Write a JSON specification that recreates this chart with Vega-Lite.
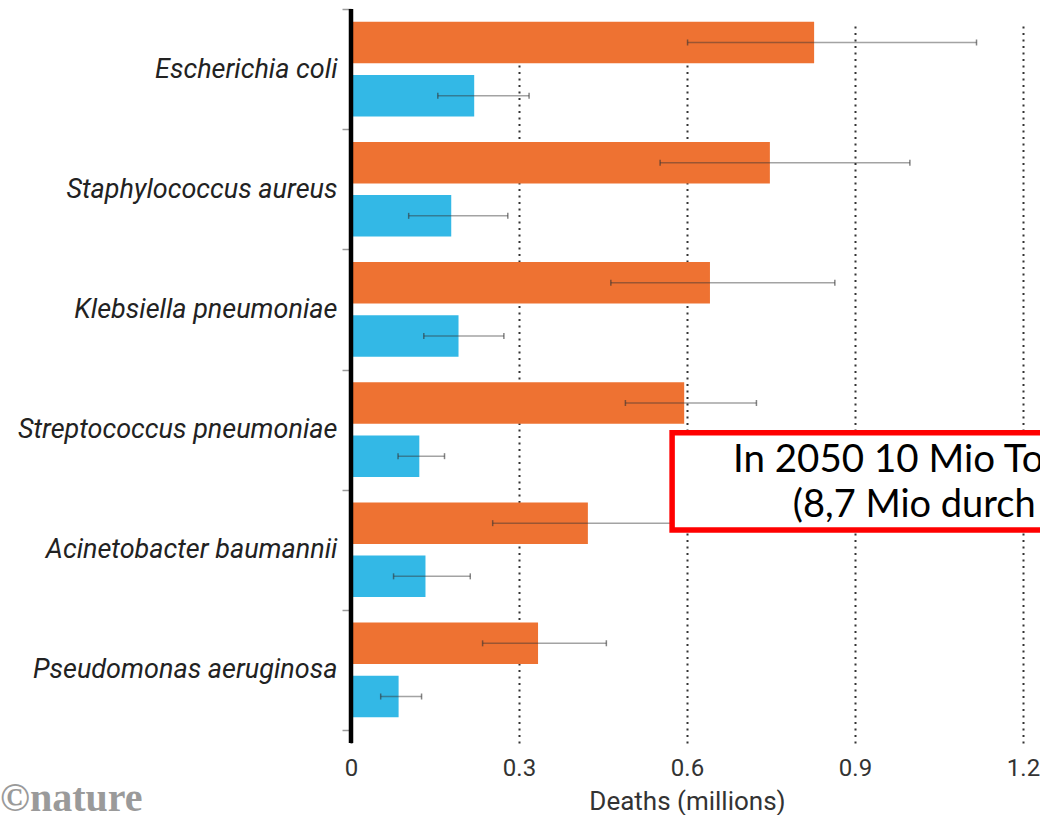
{
  "$schema": "https://vega.github.io/schema/vega-lite/v6.json",
  "autosize": {"type": "none"},
  "padding": {"left": 351, "top": 9, "right": 17, "bottom": 72},
  "width": 672,
  "height": 734,
  "background": "white",
  "config": {"view": {"stroke": null}},
  "title": {
    "text": "©nature",
    "orient": "bottom",
    "anchor": "start",
    "frame": "group",
    "dx": -351,
    "offset": -3,
    "baseline": "alphabetic",
    "font": "Liberation Serif",
    "fontWeight": "bold",
    "fontSize": 40,
    "color": "#9a9a9a"
  },
  "datasets": {
    "deaths": [
      {"pathogen": "Escherichia coli", "measure": "associated", "deaths": 0.827, "lo": 0.601, "hi": 1.117},
      {"pathogen": "Escherichia coli", "measure": "attributable", "deaths": 0.22, "lo": 0.155, "hi": 0.318},
      {"pathogen": "Staphylococcus aureus", "measure": "associated", "deaths": 0.748, "lo": 0.552, "hi": 0.998},
      {"pathogen": "Staphylococcus aureus", "measure": "attributable", "deaths": 0.179, "lo": 0.103, "hi": 0.28},
      {"pathogen": "Klebsiella pneumoniae", "measure": "associated", "deaths": 0.641, "lo": 0.464, "hi": 0.864},
      {"pathogen": "Klebsiella pneumoniae", "measure": "attributable", "deaths": 0.192, "lo": 0.13, "hi": 0.273},
      {"pathogen": "Streptococcus pneumoniae", "measure": "associated", "deaths": 0.595, "lo": 0.49, "hi": 0.724},
      {"pathogen": "Streptococcus pneumoniae", "measure": "attributable", "deaths": 0.122, "lo": 0.084, "hi": 0.167},
      {"pathogen": "Acinetobacter baumannii", "measure": "associated", "deaths": 0.423, "lo": 0.253, "hi": 0.6},
      {"pathogen": "Acinetobacter baumannii", "measure": "attributable", "deaths": 0.133, "lo": 0.076, "hi": 0.213},
      {"pathogen": "Pseudomonas aeruginosa", "measure": "associated", "deaths": 0.334, "lo": 0.235, "hi": 0.456},
      {"pathogen": "Pseudomonas aeruginosa", "measure": "attributable", "deaths": 0.085, "lo": 0.053, "hi": 0.126}
    ]
  },
  "layer": [
    {
      "data": {"name": "deaths"},
      "encoding": {
        "y": {
          "field": "pathogen",
          "type": "nominal",
          "sort": null,
          "scale": {"range": [0, 721], "paddingInner": 0, "paddingOuter": 0},
          "axis": {
            "title": null,
            "domain": false,
            "grid": false,
            "tickBand": "extent",
            "tickColor": "#9a9a9a",
            "tickSize": 9,
            "tickWidth": 1.5,
            "labelFont": "Roboto",
            "labelFontStyle": "italic",
            "labelFontSize": 27,
            "labelColor": "#222222",
            "labelPadding": 5,
            "labelLimit": 0
          }
        },
        "yOffset": {
          "field": "measure",
          "type": "nominal",
          "scale": {"paddingInner": 0.22, "paddingOuter": 0.24}
        }
      },
      "layer": [
        {
          "mark": {"type": "bar"},
          "encoding": {
            "x": {
              "field": "deaths",
              "type": "quantitative",
              "scale": {"domain": [0, 1.2], "nice": false},
              "axis": {
                "values": [0, 0.3, 0.6, 0.9, 1.2],
                "format": ".1~f",
                "domain": false,
                "ticks": false,
                "grid": true,
                "gridDash": [2, 4.5],
                "gridColor": "#333333",
                "gridWidth": 2,
                "labelFlush": false,
                "labelFont": "Roboto",
                "labelFontSize": 24,
                "labelColor": "#333333",
                "labelPadding": 13,
                "title": "Deaths (millions)",
                "titleFont": "Roboto",
                "titleFontSize": 26,
                "titleFontWeight": "normal",
                "titleColor": "#333333",
                "titlePadding": 8
              }
            },
            "color": {
              "field": "measure",
              "type": "nominal",
              "scale": {"domain": ["associated", "attributable"], "range": ["#EE7232", "#33B8E6"]},
              "legend": null
            }
          }
        },
        {
          "mark": {"type": "rule", "color": "#333333", "opacity": 0.45, "strokeWidth": 1.5},
          "encoding": {
            "x": {"field": "lo", "type": "quantitative", "scale": {"domain": [0, 1.2], "nice": false}},
            "x2": {"field": "hi"}
          }
        },
        {
          "mark": {"type": "tick", "color": "#333333", "opacity": 0.6, "size": 6, "thickness": 1.5, "orient": "vertical"},
          "encoding": {
            "x": {"field": "lo", "type": "quantitative", "scale": {"domain": [0, 1.2], "nice": false}}
          }
        },
        {
          "mark": {"type": "tick", "color": "#333333", "opacity": 0.6, "size": 6, "thickness": 1.5, "orient": "vertical"},
          "encoding": {
            "x": {"field": "hi", "type": "quantitative", "scale": {"domain": [0, 1.2], "nice": false}}
          }
        }
      ]
    },
    {
      "data": {"values": [{}]},
      "mark": {"type": "rule", "color": "#000000", "strokeWidth": 4.5},
      "encoding": {
        "x": {"datum": 0, "type": "quantitative", "scale": {"domain": [0, 1.2], "nice": false}}
      }
    },
    {
      "data": {"values": [{}]},
      "mark": {"type": "rect", "fill": "white", "stroke": "#FF0000", "strokeWidth": 5.5},
      "encoding": {
        "x": {"datum": 0.5734, "type": "quantitative", "scale": {"domain": [0, 1.2], "nice": false}},
        "x2": {"datum": 1.5},
        "y": {"datum": 3.527, "type": "quantitative", "scale": {"domain": [0, 6], "range": [0, 721]}, "axis": null},
        "y2": {"datum": 4.336}
      }
    },
    {
      "data": {"values": [{}]},
      "mark": {"type": "text", "text": "In 2050 10 Mio To", "font": "Lato", "fontSize": 38.5, "color": "#000000", "align": "left", "baseline": "alphabetic"},
      "encoding": {
        "x": {"datum": 0.682, "type": "quantitative", "scale": {"domain": [0, 1.2], "nice": false}},
        "y": {"datum": 3.85, "type": "quantitative", "scale": {"domain": [0, 6], "range": [0, 721]}, "axis": null}
      }
    },
    {
      "data": {"values": [{}]},
      "mark": {"type": "text", "text": "(8,7 Mio durch", "font": "Lato", "fontSize": 38, "color": "#000000", "align": "left", "baseline": "alphabetic"},
      "encoding": {
        "x": {"datum": 0.789, "type": "quantitative", "scale": {"domain": [0, 1.2], "nice": false}},
        "y": {"datum": 4.227, "type": "quantitative", "scale": {"domain": [0, 6], "range": [0, 721]}, "axis": null}
      }
    }
  ],
  "resolve": {"scale": {"y": "independent"}}
}
